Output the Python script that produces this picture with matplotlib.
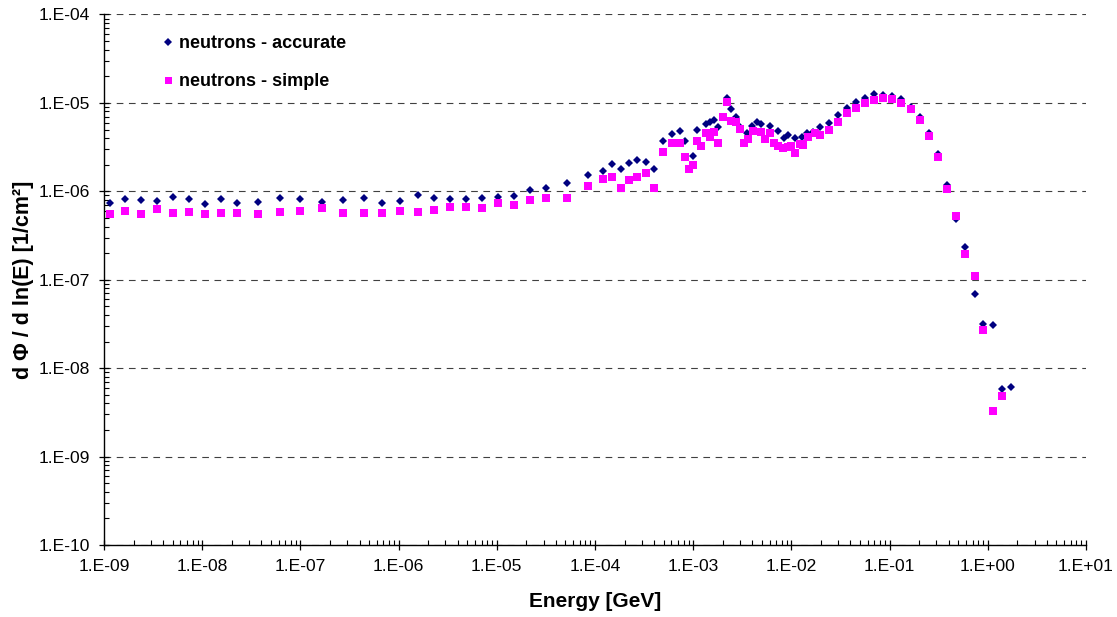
import math

import matplotlib

matplotlib.use("Agg")
import matplotlib.pyplot as plt
from matplotlib.ticker import FixedLocator, FuncFormatter, LogLocator, NullFormatter

# energy grid [GeV] and flux d(phi)/d ln(E) [1/cm^2]
accurate_energy = [
    1.14e-9, 1.64e-9, 2.40e-9, 3.49e-9, 5.04e-9, 7.27e-9, 1.08e-8, 1.56e-8, 2.25e-8, 3.72e-8,
    6.13e-8, 1.00e-7, 1.65e-7, 2.74e-7, 4.49e-7, 6.84e-7, 1.04e-6, 1.59e-6, 2.30e-6, 3.34e-6,
    4.86e-6, 7.07e-6, 1.02e-5, 1.50e-5, 2.19e-5, 3.17e-5, 5.18e-5, 8.47e-5, 1.22e-4, 1.49e-4,
    1.82e-4, 2.23e-4, 2.70e-4, 3.30e-4, 4.02e-4, 4.91e-4, 6.05e-4, 7.36e-4, 8.18e-4, 9.86e-4,
    1.10e-3, 1.35e-3, 1.49e-3, 1.63e-3, 1.80e-3, 2.21e-3, 2.45e-3, 2.70e-3, 2.97e-3, 3.51e-3,
    4.02e-3, 4.44e-3, 4.95e-3, 6.05e-3, 7.36e-3, 8.41e-3, 9.29e-3, 1.09e-2, 1.27e-2, 1.43e-2,
    1.65e-2, 1.95e-2, 2.42e-2, 2.98e-2, 3.66e-2, 4.57e-2, 5.65e-2, 7.00e-2, 8.55e-2, 1.06e-1,
    1.32e-1, 1.64e-1, 2.02e-1, 2.51e-1, 3.08e-1, 3.85e-1, 4.76e-1, 5.93e-1, 7.33e-1, 9.04e-1,
    1.13, 1.39, 1.73,
]
accurate_flux = [
    7.36e-7, 8.23e-7, 8.02e-7, 7.75e-7, 8.60e-7, 8.16e-7, 7.28e-7, 8.16e-7, 7.47e-7, 7.67e-7,
    8.51e-7, 8.29e-7, 7.61e-7, 7.96e-7, 8.51e-7, 7.36e-7, 7.87e-7, 9.06e-7, 8.44e-7, 8.29e-7,
    8.29e-7, 8.34e-7, 8.67e-7, 8.89e-7, 1.03e-6, 1.10e-6, 1.25e-6, 1.52e-6, 1.70e-6, 2.05e-6,
    1.80e-6, 2.10e-6, 2.25e-6, 2.12e-6, 1.78e-6, 3.72e-6, 4.46e-6, 4.86e-6, 3.75e-6, 2.52e-6,
    4.95e-6, 5.74e-6, 6.14e-6, 6.42e-6, 5.31e-6, 1.13e-5, 8.56e-6, 6.89e-6, 5.31e-6, 4.55e-6,
    5.50e-6, 6.14e-6, 5.83e-6, 5.54e-6, 4.83e-6, 3.99e-6, 4.35e-6, 3.99e-6, 4.16e-6, 4.55e-6,
    4.74e-6, 5.40e-6, 5.90e-6, 7.32e-6, 8.85e-6, 1.03e-5, 1.13e-5, 1.27e-5, 1.22e-5, 1.20e-5,
    1.10e-5, 9.08e-6, 6.89e-6, 4.55e-6, 2.65e-6, 1.19e-6, 4.85e-7, 2.34e-7, 6.95e-8, 3.18e-8,
    3.10e-8, 5.82e-9, 6.13e-9,
]

simple_energy = [
    1.14e-9, 1.64e-9, 2.40e-9, 3.49e-9, 5.04e-9, 7.27e-9, 1.08e-8, 1.56e-8, 2.25e-8, 3.72e-8,
    6.13e-8, 1.00e-7, 1.65e-7, 2.74e-7, 4.49e-7, 6.84e-7, 1.04e-6, 1.59e-6, 2.30e-6, 3.34e-6,
    4.86e-6, 7.07e-6, 1.02e-5, 1.50e-5, 2.19e-5, 3.17e-5, 5.18e-5, 8.47e-5, 1.22e-4, 1.49e-4,
    1.82e-4, 2.23e-4, 2.70e-4, 3.30e-4, 4.02e-4, 4.91e-4, 6.05e-4, 7.36e-4, 8.18e-4, 9.08e-4,
    9.86e-4, 1.10e-3, 1.20e-3, 1.35e-3, 1.49e-3, 1.63e-3, 1.80e-3, 2.00e-3, 2.21e-3, 2.45e-3,
    2.70e-3, 2.97e-3, 3.30e-3, 3.61e-3, 4.10e-3, 4.87e-3, 5.38e-3, 6.05e-3, 6.65e-3, 7.36e-3,
    8.15e-3, 9.29e-3, 9.84e-3, 1.09e-2, 1.22e-2, 1.32e-2, 1.49e-2, 1.74e-2, 1.95e-2, 2.42e-2,
    2.98e-2, 3.66e-2, 4.57e-2, 5.65e-2, 7.00e-2, 8.55e-2, 1.06e-1, 1.32e-1, 1.64e-1, 2.02e-1,
    2.51e-1, 3.08e-1, 3.85e-1, 4.76e-1, 5.93e-1, 7.33e-1, 9.04e-1, 1.13, 1.39,
]
simple_flux = [
    5.53e-7, 6.07e-7, 5.47e-7, 6.39e-7, 5.76e-7, 5.87e-7, 5.61e-7, 5.71e-7, 5.76e-7, 5.53e-7,
    5.87e-7, 6.07e-7, 6.46e-7, 5.76e-7, 5.71e-7, 5.76e-7, 6.07e-7, 5.82e-7, 6.13e-7, 6.63e-7,
    6.63e-7, 6.56e-7, 7.47e-7, 7.09e-7, 7.96e-7, 8.38e-7, 8.51e-7, 1.16e-6, 1.38e-6, 1.47e-6,
    1.10e-6, 1.36e-6, 1.46e-6, 1.61e-6, 1.10e-6, 2.79e-6, 3.56e-6, 3.56e-6, 2.47e-6, 1.80e-6,
    2.01e-6, 3.75e-6, 3.29e-6, 4.62e-6, 4.10e-6, 4.74e-6, 3.56e-6, 6.89e-6, 1.03e-5, 6.26e-6,
    6.14e-6, 5.04e-6, 3.56e-6, 3.89e-6, 4.86e-6, 4.74e-6, 3.89e-6, 4.55e-6, 3.50e-6, 3.27e-6,
    3.08e-6, 3.21e-6, 3.27e-6, 2.70e-6, 3.41e-6, 3.35e-6, 4.16e-6, 4.55e-6, 4.35e-6, 4.95e-6,
    6.14e-6, 7.65e-6, 8.85e-6, 1.01e-5, 1.08e-5, 1.15e-5, 1.11e-5, 1.01e-5, 8.49e-6, 6.42e-6,
    4.24e-6, 2.47e-6, 1.05e-6, 5.29e-7, 1.93e-7, 1.09e-7, 2.72e-8, 3.25e-9, 4.80e-9,
]

series_labels = ["neutrons - accurate", "neutrons - simple"]
x_decades = range(-9, 2)
y_decades = range(-10, -3)


def excel_log_label(value, _pos):
    # Excel style "1.E-09"
    exponent = int(round(math.log10(value)))
    return f"1.E{exponent:+03d}"


def main() -> None:
    plt.rcParams["font.family"] = ["Liberation Sans", "DejaVu Sans"]

    fig = plt.figure(figsize=(11.17, 6.17), dpi=100)
    ax = fig.add_axes([0.0931, 0.1167, 0.8791, 0.8598])

    ax.plot(accurate_energy, accurate_flux, linestyle="none", marker="D", markersize=4.2,
            color="#000080", markeredgewidth=0, label=series_labels[0], zorder=3)
    ax.plot(simple_energy, simple_flux, linestyle="none", marker="s", markersize=5.6,
            color="#ff00ff", markeredgewidth=0, label=series_labels[1], zorder=4)

    ax.set_xscale("log")
    ax.set_yscale("log")
    ax.set_xlim(1e-9, 1e1)
    ax.set_ylim(1e-10, 1e-4)

    ax.xaxis.set_major_locator(FixedLocator([10.0 ** e for e in x_decades]))
    ax.yaxis.set_major_locator(FixedLocator([10.0 ** e for e in y_decades]))
    for axis in (ax.xaxis, ax.yaxis):
        axis.set_minor_locator(LogLocator(base=10, subs=range(2, 10), numticks=20))
        axis.set_major_formatter(FuncFormatter(excel_log_label))
        axis.set_minor_formatter(NullFormatter())

    ax.tick_params(which="major", direction="inout", length=7.5, width=0.9, labelsize=12.6, color="black")
    ax.tick_params(which="minor", direction="in", length=3.5, width=0.8, color="black")
    ax.tick_params(axis="y", which="major", pad=6.2)
    ax.tick_params(axis="x", which="major", pad=6.5)

    ax.spines["top"].set_visible(False)
    ax.spines["right"].set_visible(False)
    for side in ("left", "bottom"):
        ax.spines[side].set_linewidth(1.0)
        ax.spines[side].set_color("black")

    ax.yaxis.grid(True, which="major", color="#404040", linewidth=0.8, linestyle=(0, (6, 5)))
    ax.set_axisbelow(True)

    ax.set_xlabel("Energy [GeV]", fontsize=15, fontweight="bold", labelpad=13)
    ax.set_ylabel("d Φ / d ln(E) [1/cm²]", fontsize=15.5, fontweight="bold")
    ax.yaxis.set_label_coords(-0.071, 0.5)

    ax.legend(loc="upper left", bbox_to_anchor=(0.0597, 0.961), frameon=False,
              prop={"weight": "bold", "size": 13}, numpoints=1, handlelength=0.6,
              handletextpad=0.3, labelspacing=1.17, borderaxespad=0, borderpad=0, markerscale=0.9)

    fig.savefig("out.png", dpi=100)
    plt.close(fig)


if __name__ == "__main__":
    main()
